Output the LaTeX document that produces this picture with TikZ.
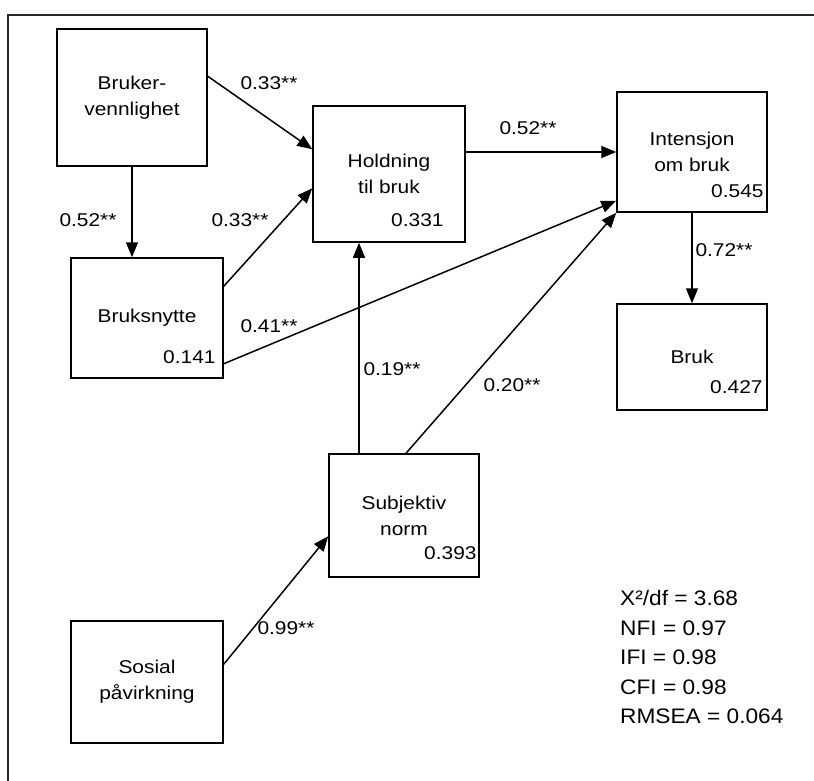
\documentclass[tikz,border=0pt]{standalone}
\usepackage{fontspec}
\setmainfont[FakeStretch=1.13]{Liberation Sans}
\newfontfamily\statfont[FakeStretch=1.08]{Liberation Sans}
\usetikzlibrary{arrows.meta,calc}
\begin{document}
\begin{tikzpicture}[x=1pt,y=-1pt,
  box/.style={draw,line width=1.5pt,rectangle,inner sep=0pt,align=center,
    font=\fontsize{18.5}{26}\selectfont},
  val/.style={anchor=east,inner sep=0pt,font=\fontsize{18.5}{22}\selectfont},
  coef/.style={inner sep=0pt,font=\fontsize{18.5}{22}\selectfont},
  arr/.style={line width=1.5pt,-{Triangle[length=15pt,width=12pt]}},
  frame/.style={line width=2pt,black!85}
]
\useasboundingbox (0,0) rectangle (814,781);
\fill[white] (0,0) rectangle (814,781);
\draw[frame] (816,15.5) -- (7.5,15.5) -- (7.5,783);

% boxes
\node[box,minimum width=150pt,minimum height=137pt] (bv) at (132,97.5) {Bruker-\\vennlighet};
\node[box,minimum width=152pt,minimum height=136pt] (hold) at (389,174) {Holdning\\til bruk};
\node[box,minimum width=150pt,minimum height=120pt] (int) at (692,152) {Intensjon\\om bruk};
\node[box,minimum width=152pt,minimum height=120pt] (bn) at (147,318) {Bruksnytte};
\node[box,minimum width=150pt,minimum height=123pt] (sub) at (404,515.5) {Subjektiv\\norm};
\node[box,minimum width=150pt,minimum height=106pt] (bruk) at (692,357) {Bruk};
\node[box,minimum width=152pt,minimum height=122pt] (sos) at (147,682) {Sosial\\påvirkning};

% explained variance
\node[val] (vhold) at ([xshift=-22pt,yshift=23pt]hold.south east) {0.331};
\node[val] (vint) at ([xshift=-4pt,yshift=22pt]int.south east) {0.545};
\node[val] (vbn) at ([xshift=-8pt,yshift=22pt]bn.south east) {0.141};
\node[val] (vsub) at ([xshift=-3pt,yshift=25pt]sub.south east) {0.393};
\node[val] (vbruk) at ([xshift=-5pt,yshift=24pt]bruk.south east) {0.427};

% connectors
\draw[arr] ([yshift=-48pt]bv.north east) -- ([yshift=-44pt]hold.north west);
\draw[arr] (bv.south) -- (bv.south |- bn.north);
\draw[arr] ([yshift=-29pt]bn.north east) -- ([yshift=-83pt]hold.north west);
\draw[arr] (hold.east |- int.west) -- (int.west);
\draw[arr] ([yshift=15pt]bn.south east) -- ([yshift=12pt]int.south west);
\draw[arr] ([xshift=-45pt]sub.north) -- ([xshift=-45pt]sub.north |- hold.south);
\draw[arr] ([xshift=2pt]sub.north) -- (int.south west);
\draw[arr] (int.south) -- (bruk.north);
\draw[arr] ([yshift=-44pt]sos.north east) -- ([yshift=-83pt]sub.north west);

% coefficients
\node[coef] (c1) at (269,83) {0.33**};
\node[coef] (c2) at (88,220) {0.52**};
\node[coef] (c3) at (240,220) {0.33**};
\node[coef] (c4) at (528,128) {0.52**};
\node[coef] (c5) at (724,250) {0.72**};
\node[coef] (c6) at (269,326) {0.41**};
\node[coef] (c7) at (392,369) {0.19**};
\node[coef] (c8) at (512,385) {0.20**};
\node[coef] (c9) at (286,628) {0.99**};

% fit statistics
\node[anchor=west,align=left,inner sep=0pt,font=\statfont\fontsize{21}{29.5}\selectfont] (fit) at (620,657)
  {X²/df = 3.68\\NFI = 0.97\\IFI = 0.98\\CFI = 0.98\\RMSEA = 0.064};
\end{tikzpicture}
\end{document}
